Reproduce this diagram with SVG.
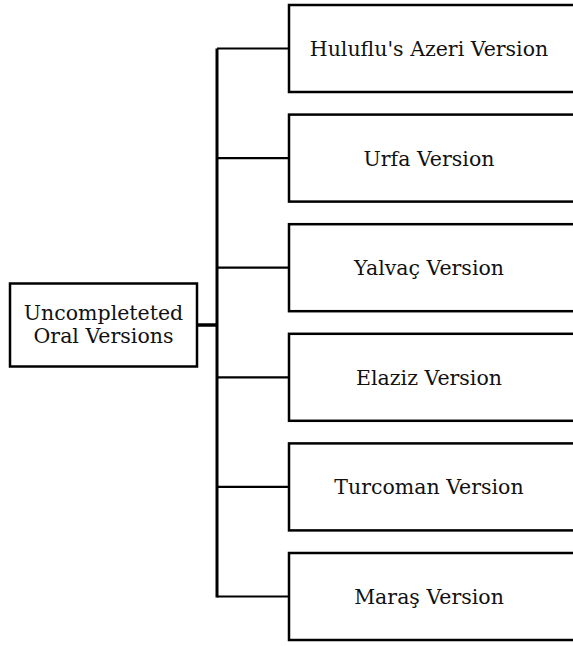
<svg xmlns="http://www.w3.org/2000/svg" width="573" height="646" viewBox="0 0 573 646">
<style>
.box{fill:#fff;stroke:#000;stroke-width:2.5}
.lbl{font-family:'DejaVu Serif',serif;font-size:20.5px;fill:#111;text-anchor:middle}
.conn{stroke:#000;fill:none;stroke-width:2.2}
</style>
<rect width="573" height="646" fill="#fff"/>
<g id="connectors">
<line class="conn" x1="217" y1="48.5" x2="217" y2="597.5" style="stroke-width:3"/>
<line class="conn" x1="197" y1="325" x2="217" y2="325" style="stroke-width:3.5"/>
<line class="conn" x1="217" y1="48.5" x2="289" y2="48.5"/>
<line class="conn" x1="217" y1="158.1" x2="289" y2="158.1"/>
<line class="conn" x1="217" y1="267.7" x2="289" y2="267.7"/>
<line class="conn" x1="217" y1="377.3" x2="289" y2="377.3"/>
<line class="conn" x1="217" y1="486.9" x2="289" y2="486.9"/>
<line class="conn" x1="217" y1="596.5" x2="289" y2="596.5"/>
</g>
<g id="root">
<rect class="box" x="10" y="283.5" width="187" height="83"/>
<text class="lbl" x="103.5" y="320">Uncompleteted</text>
<text class="lbl" x="103.5" y="343">Oral Versions</text>
</g>
<g id="n1">
<rect class="box" x="289" y="5" width="300" height="87"/>
<text class="lbl" x="429" y="56">Huluflu's Azeri Version</text>
</g>
<g id="n2">
<rect class="box" x="289" y="114.6" width="300" height="87"/>
<text class="lbl" x="429" y="165.6">Urfa Version</text>
</g>
<g id="n3">
<rect class="box" x="289" y="224.2" width="300" height="87"/>
<text class="lbl" x="429" y="275.2">Yalvaç Version</text>
</g>
<g id="n4">
<rect class="box" x="289" y="333.8" width="300" height="87"/>
<text class="lbl" x="429" y="384.8">Elaziz Version</text>
</g>
<g id="n5">
<rect class="box" x="289" y="443.4" width="300" height="87"/>
<text class="lbl" x="429" y="494.4">Turcoman Version</text>
</g>
<g id="n6">
<rect class="box" x="289" y="553" width="300" height="87"/>
<text class="lbl" x="429" y="604">Maraş Version</text>
</g>
</svg>
